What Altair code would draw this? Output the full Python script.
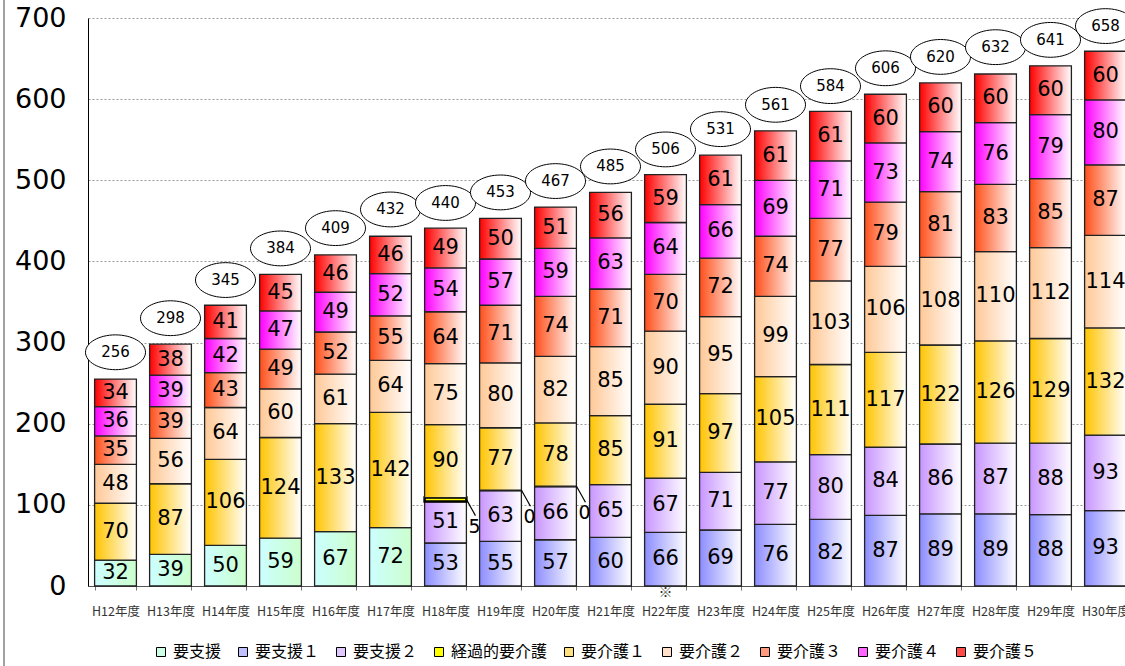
import altair as alt
import pandas as pd

years = ["H12年度", "H13年度", "H14年度", "H15年度", "H16年度", "H17年度", "H18年度",
         "H19年度", "H20年度", "H21年度", "H22年度", "H23年度", "H24年度", "H25年度",
         "H26年度", "H27年度", "H28年度", "H29年度", "H30年度"]

series = ["要支援", "要支援１", "要支援２", "経過的要介護", "要介護１", "要介護２",
          "要介護３", "要介護４", "要介護５"]

N = None
shien = [32, 39, 50, 59, 67, 72, N, N, N, N, N, N, N, N, N, N, N, N, N]
shien1 = [N, N, N, N, N, N, 53, 55, 57, 60, 66, 69, 76, 82, 87, 89, 89, 88, 93]
shien2 = [N, N, N, N, N, N, 51, 63, 66, 65, 67, 71, 77, 80, 84, 86, 87, 88, 93]
keika = [N, N, N, N, N, N, 5, 0, 0, N, N, N, N, N, N, N, N, N, N]
kaigo1 = [70, 87, 106, 124, 133, 142, 90, 77, 78, 85, 91, 97, 105, 111, 117, 122, 126, 129, 132]
kaigo2 = [48, 56, 64, 60, 61, 64, 75, 80, 82, 85, 90, 95, 99, 103, 106, 108, 110, 112, 114]
kaigo3 = [35, 39, 43, 49, 52, 55, 64, 71, 74, 71, 70, 72, 74, 77, 79, 81, 83, 85, 87]
kaigo4 = [36, 39, 42, 47, 49, 52, 54, 57, 59, 63, 64, 66, 69, 71, 73, 74, 76, 79, 80]
kaigo5 = [34, 38, 41, 45, 46, 46, 49, 50, 51, 56, 59, 61, 61, 61, 60, 60, 60, 60, 60]
totals = [256, 298, 345, 384, 409, 432, 440, 453, 467, 485, 506, 531, 561, 584, 606,
          620, 632, 641, 658]

all_vals = [shien, shien1, shien2, keika, kaigo1, kaigo2, kaigo3, kaigo4, kaigo5]

left_colors = ["#ccffff", "#8c8cff", "#c896ff", "#ffff00", "#ffc400", "#ffc896",
               "#ff4f1a", "#ff00ff", "#ff0000"]
right_colors = ["#ccffcc", "#ffffff", "#ffffff", "#ffff00", "#ffffff", "#ffffff",
                "#ffffff", "#ffffff", "#ffffff"]
legend_colors = ["#ccffe6", "#c0c0ff", "#e0c8ff", "#ffff00", "#ffe080", "#ffe0c8",
                 "#ff9a80", "#ff66ff", "#ff4a4a"]

rows = []
for si, (s, vals) in enumerate(zip(series, all_vals)):
    for y, v in zip(years, vals):
        if v is not None:
            rows.append({"year": y, "series": s, "order": si, "value": v})
df = pd.DataFrame(rows)
tot_df = pd.DataFrame({"year": years, "total": totals})

NUMFONT = "DejaVu Sans"
JPFONT = "Noto Sans CJK JP"

X = alt.X("year:N", sort=years,
          scale=alt.Scale(domain=years, range=[0, 1045], paddingInner=0.24, paddingOuter=0.12),
          axis=alt.Axis(title=None, labelAngle=0, labelFont=JPFONT, labelFontSize=12.5,
                        labelColor="#333333", tickBand="extent", tickSize=4, tickColor="#777777",
                        domainColor="#555555", labelPadding=15, grid=False))
yscale = alt.Scale(domain=[0, 700], nice=False)
yaxis = alt.Axis(title=None, values=[0, 100, 200, 300, 400, 500, 600, 700], ticks=False,
                 tickSize=0, labelFont=NUMFONT, labelFontSize=27, labelColor="black",
                 labelPadding=22, domainColor="black", grid=True, gridColor="#999999",
                 gridDash=[2, 2], gridWidth=1)

base = alt.Chart(df).transform_stack(
    stack="value", groupby=["year"], as_=["y0", "y1"],
    sort=[alt.SortField("order", order="ascending")]
).transform_calculate(mid="(datum.y0 + datum.y1) / 2")

layers = []
for i, s in enumerate(series):
    grad = {"gradient": "linear", "x1": 0, "x2": 1, "y1": 0, "y2": 0,
            "stops": [{"offset": 0, "color": left_colors[i]},
                      {"offset": 1, "color": right_colors[i]}]}
    if s == "経過的要介護":
        mk = dict(fill="#ffff00", stroke="black", strokeWidth=2.5)
    else:
        mk = dict(fill=grad, stroke="#222222", strokeWidth=1.3)
    layers.append(
        base.transform_filter(alt.datum.series == s).mark_bar(**mk).encode(
            x=X, y=alt.Y("y0:Q", scale=yscale, axis=yaxis), y2="y1:Q")
    )

seg_text = base.transform_filter(
    (alt.datum.series != "経過的要介護") & (alt.datum.value > 0)
).mark_text(font=NUMFONT, fontSize=21, color="black", baseline="middle", align="center").encode(
    x=X, y=alt.Y("mid:Q", scale=yscale, axis=yaxis), text="value:Q")

keika_base = base.transform_filter(alt.datum.series == "経過的要介護")
leader = keika_base.mark_point(shape="M 0 0 L 0.56 1", size=1024, filled=False,
                               stroke="black", strokeWidth=1.2, opacity=1, xOffset=21).encode(
    x=X, y=alt.Y("mid:Q", scale=yscale, axis=yaxis))
keika_text = keika_base.mark_text(font=NUMFONT, fontSize=19, color="black", baseline="middle",
                                  align="center", dx=29, dy=27).encode(
    x=X, y=alt.Y("mid:Q", scale=yscale, axis=yaxis), text="value:Q")

ellipse = alt.Chart(tot_df).mark_point(
    shape="M -1 0 A 1 0.58 0 1 1 1 0 A 1 0.58 0 1 1 -1 0 Z", size=3600, filled=True,
    fill="white", stroke="black", strokeWidth=1, opacity=1, yOffset=-26).encode(
    x=X, y=alt.Y("total:Q", scale=yscale, axis=yaxis))
tot_text = alt.Chart(tot_df).mark_text(font=NUMFONT, fontSize=15, color="black",
                                       baseline="middle", align="center", dy=-26).encode(
    x=X, y=alt.Y("total:Q", scale=yscale, axis=yaxis), text="total:Q")

note = alt.Chart(pd.DataFrame({"year": ["H22年度"], "v": [0], "t": ["※"]})).mark_text(
    font=JPFONT, fontSize=14, color="#333333", baseline="middle", dy=7).encode(
    x=X, y=alt.Y("v:Q", scale=yscale, axis=yaxis), text="t:N")

border = alt.Chart(pd.DataFrame({"a": [0]})).mark_rule(color="#444444", strokeWidth=1).encode(
    x=alt.value(-84), y=alt.value(-18), y2=alt.value(648))

legend_layer = alt.Chart(pd.DataFrame({"series": series})).mark_square(size=0, opacity=0).encode(
    color=alt.Color("series:N", sort=series,
                    scale=alt.Scale(domain=series, range=legend_colors),
                    legend=alt.Legend(title=None, orient="none", legendX=65, legendY=626,
                                      direction="horizontal", columns=9, symbolType="square",
                                      symbolSize=81, symbolStrokeColor="black",
                                      symbolStrokeWidth=1, symbolOpacity=1,
                                      labelFont=JPFONT, labelFontSize=16, labelColor="black",
                                      labelOffset=4, columnPadding=13)))

chart = alt.layer(*layers, seg_text, leader, keika_text, ellipse, tot_text, note, border,
                  legend_layer).properties(
    width=1037, height=568,
    autosize=alt.AutoSizeParams(type="none"),
    padding={"left": 88, "top": 18, "right": 0, "bottom": 80},
    background="white",
).configure_view(stroke=None)

chart.save("out.html", embed_options={"renderer": "svg", "actions": False})
